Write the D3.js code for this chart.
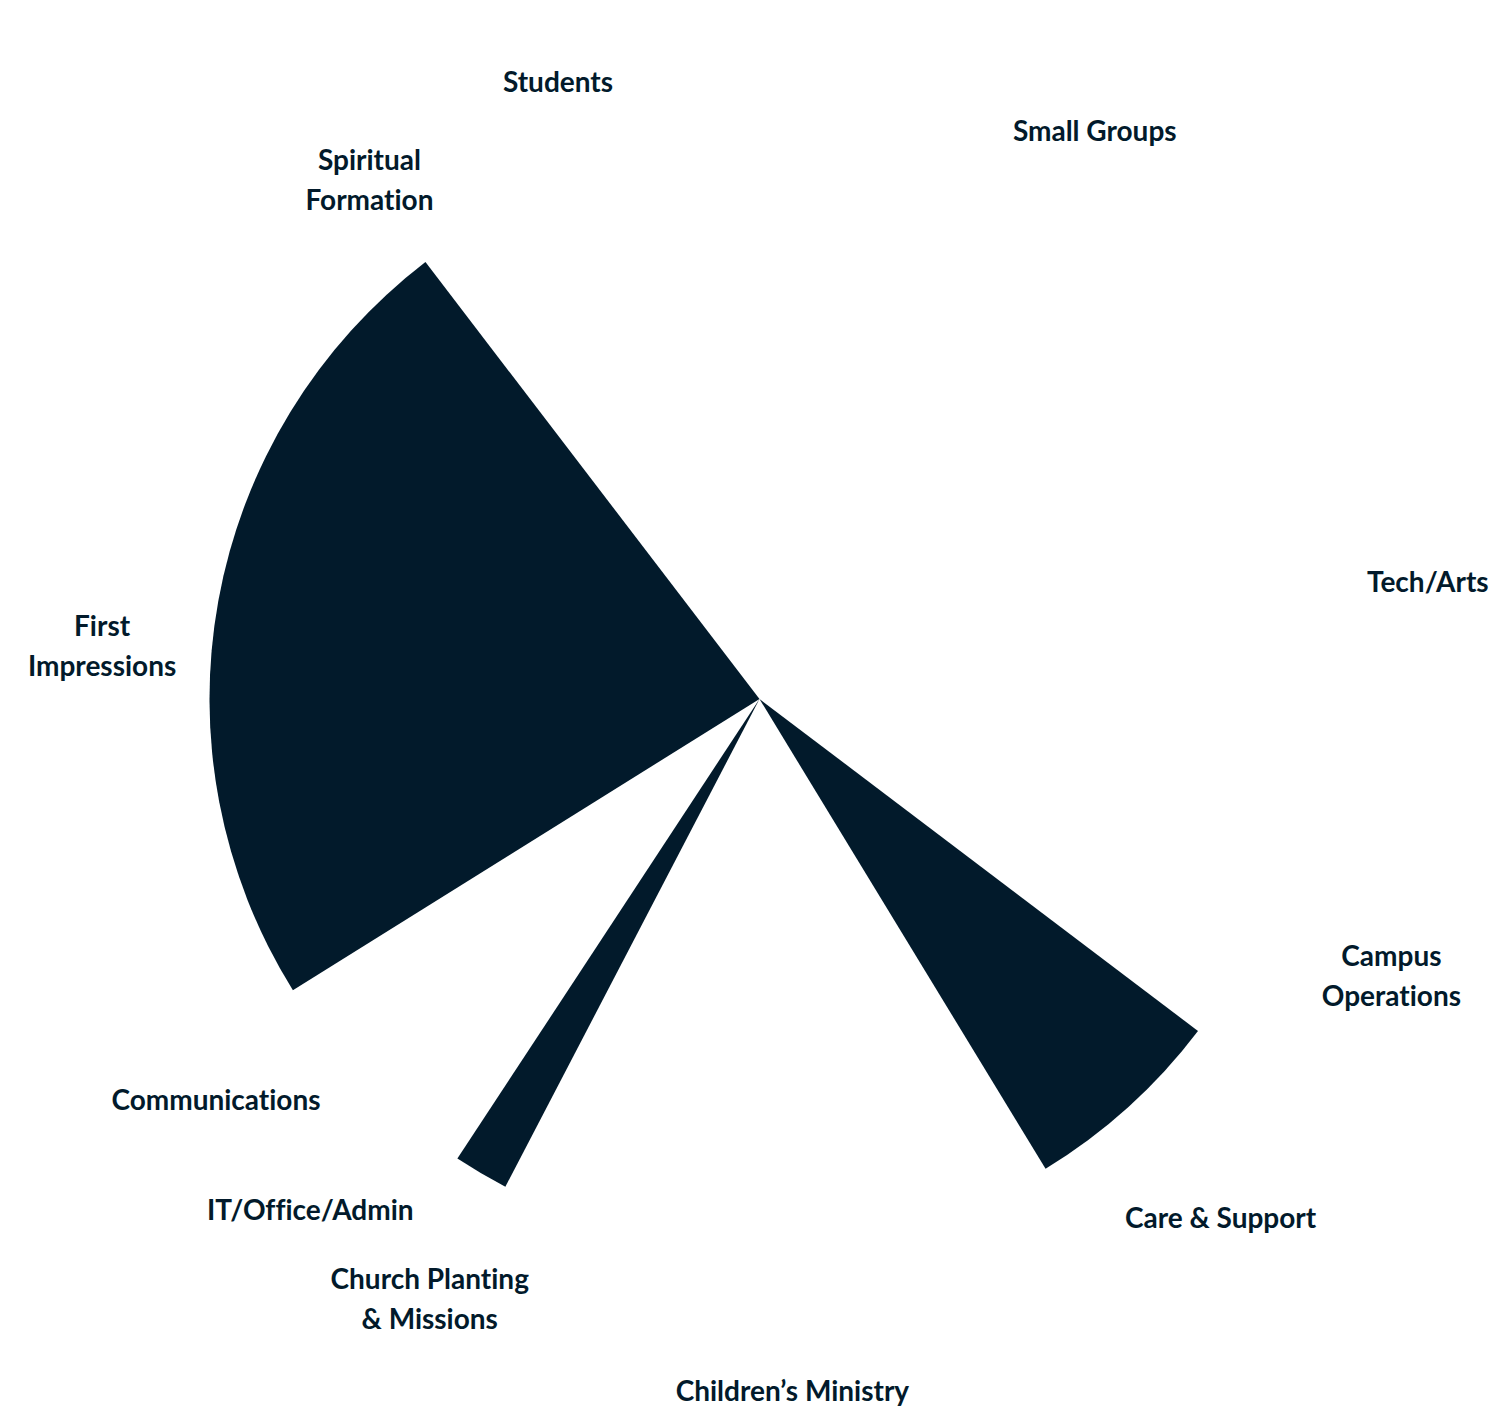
<!DOCTYPE html>
<html>
<head>
<meta charset="utf-8">
<script src="https://cdn.jsdelivr.net/npm/d3@7"></script>
<style>
  html, body { margin: 0; padding: 0; background: #ffffff; }
  svg { display: block; }
  text { font-family: "Lato", "Open Sans", sans-serif; font-weight: 700; font-variant-ligatures: none; font-feature-settings: "liga" 0, "clig" 0; }
</style>
</head>
<body>
<svg id="chart" width="1500" height="1414"></svg>
<script>
// ---- Data ----
const categories = [
  "Small Groups", "Tech/Arts", "Campus Operations", "Care & Support",
  "Children’s Ministry", "Church Planting & Missions", "IT/Office/Admin",
  "Communications", "First Impressions", "Spiritual Formation", "Students"
];
// angular share of each category (percent of the full circle)
const shares = [16.61, 10.78, 8.20, 5.98, 16.35, 1.61, 5.475, 1.39, 23.49, 0.45, 9.66];
// radial value of each category
const scores = [0, 0, 0, 1, 0, 1, 0, 0, 1, 0, 0];
// label text split into lines
const labelLines = [
  ["Small Groups"], ["Tech/Arts"], ["Campus", "Operations"], ["Care & Support"],
  ["Children’s Ministry"], ["Church Planting", "& Missions"], ["IT/Office/Admin"],
  ["Communications"], ["First", "Impressions"], ["Spiritual", "Formation"], ["Students"]
];

// ---- Layout ----
const color = "#021a2b";
const cx = 759.5, cy = 699;
const outerR = 550;
const startDeg = -1.0;
const labelCx = 770, labelCy = 720, labelR = 672;
const lineH = 40;
const labelAngleNudge = { "First Impressions": -4 }; // degrees, to avoid crowding

const data = categories.map((c, i) => ({ category: c, share: shares[i], score: scores[i], lines: labelLines[i] }));

const svg = d3.select("#chart");
svg.append("rect").attr("width", 1500).attr("height", 1414).attr("fill", "#ffffff");

const rScale = d3.scaleLinear().domain([0, 1]).range([0, outerR]);
const start = startDeg * Math.PI / 180;
const pie = d3.pie().value(d => d.share).sort(null).startAngle(start).endAngle(start + 2 * Math.PI);
const arcs = pie(data);
const arc = d3.arc().innerRadius(0).outerRadius(d => rScale(d.data.score));

const g = svg.append("g").attr("transform", `translate(${cx},${cy})`);
g.selectAll("path.wedge")
  .data(arcs)
  .join("path")
  .attr("class", "wedge")
  .attr("d", arc)
  .attr("fill", color);

const lg = svg.append("g").attr("transform", `translate(${labelCx},${labelCy})`);
const labels = lg.selectAll("text.lbl")
  .data(arcs)
  .join("text")
  .attr("class", "lbl")
  .attr("text-anchor", "middle")
  .attr("font-size", 28)
  .attr("fill", color)
  .attr("transform", d => {
    const mid = (d.startAngle + d.endAngle) / 2 + ((labelAngleNudge[d.data.category] || 0) * Math.PI / 180);
    const x = labelR * Math.sin(mid);
    const y = -labelR * Math.cos(mid);
    return `translate(${x},${y})`;
  });
labels.each(function(d) {
  const n = d.data.lines.length;
  const t = d3.select(this);
  d.data.lines.forEach((ln, k) => {
    t.append("tspan")
      .attr("x", 0)
      .attr("y", (k - (n - 1) / 2) * lineH)
      .attr("dy", "0.35em")
      .text(ln);
  });
});
</script>
</body>
</html>
